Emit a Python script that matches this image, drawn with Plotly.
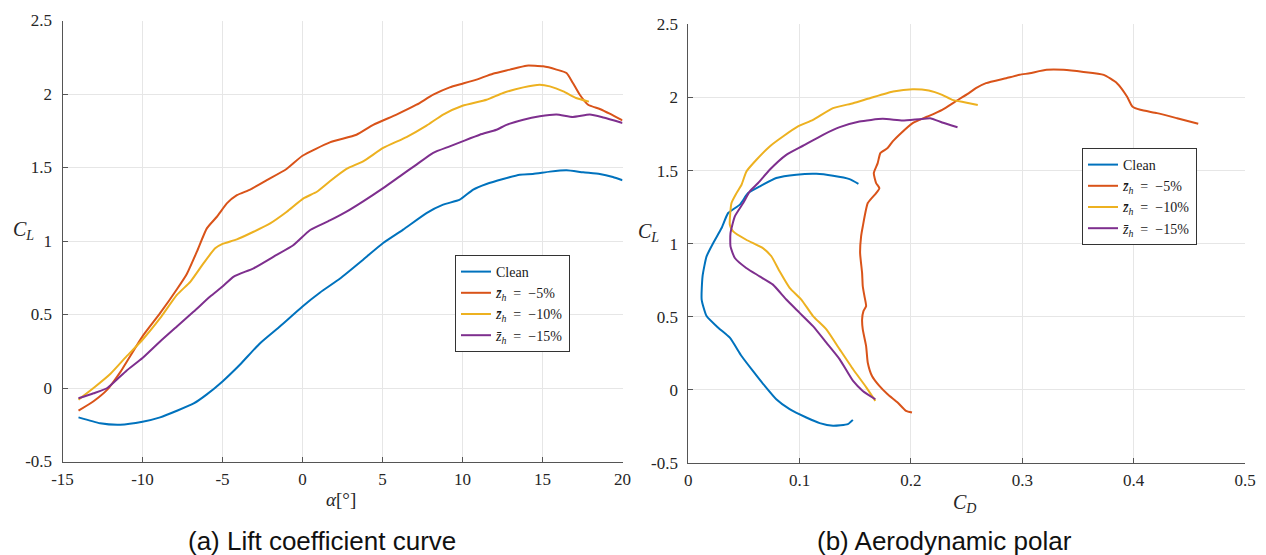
import plotly.graph_objects as go

# ---------------- data: (a) lift curve ----------------
alpha_clean = [-14.0, -12.65, -11.4, -10.0, -8.9, -7.85, -6.8, -6.0, -5.0, -3.9, -2.65, -1.4, 0.0,
               1.1, 2.35, 3.79, 5.04, 6.29, 7.75, 8.79, 9.83, 10.67, 11.5, 12.54, 13.58, 14.4,
               15.46, 16.5, 17.54, 18.58, 19.4, 20.0]
cl_clean = [-0.20, -0.24, -0.25, -0.23, -0.20, -0.155, -0.105, -0.045, 0.045, 0.16, 0.305, 0.42, 0.555,
            0.65, 0.745, 0.873, 0.986, 1.077, 1.19, 1.247, 1.281, 1.35, 1.388, 1.422, 1.451, 1.456,
            1.472, 1.481, 1.467, 1.456, 1.435, 1.413]

alpha_m5 = [-14.0, -13.06, -12.2, -11.4, -10.0, -8.9, -7.85, -7.23, -6.6, -5.98, -5.35, -4.73, -4.1,
            -3.27, -2.23, -1.0, 0.0, 1.71, 3.375, 4.42, 5.875, 7.125, 8.17, 9.2, 10.0, 10.875, 11.9,
            12.96, 14.0, 15.04, 15.875, 16.5, 16.9, 17.33, 17.85, 18.58, 19.2, 20.0]
cl_m5 = [-0.154, -0.09, -0.011, 0.106, 0.351, 0.509, 0.672, 0.776, 0.928, 1.086, 1.165, 1.256, 1.312,
         1.35, 1.414, 1.49, 1.58, 1.671, 1.723, 1.79, 1.86, 1.927, 1.995, 2.045, 2.07, 2.098, 2.138,
         2.166, 2.193, 2.188, 2.166, 2.143, 2.075, 1.995, 1.927, 1.898, 1.866, 1.82]

alpha_m10 = [-14.0, -13.06, -12.0, -11.0, -10.0, -8.9, -7.85, -7.0, -6.19, -5.46, -5.0, -4.1, -3.06,
             -2.02, -0.98, 0.06, 0.9, 1.71, 2.75, 3.79, 5.04, 6.5, 7.75, 8.79, 10.0, 11.5, 12.54,
             13.8, 14.83, 15.46, 16.3, 17.1, 17.9]
cl_m10 = [-0.079, 0.0, 0.097, 0.215, 0.328, 0.475, 0.633, 0.724, 0.848, 0.95, 0.98, 1.011, 1.063,
          1.12, 1.199, 1.29, 1.335, 1.406, 1.49, 1.542, 1.633, 1.707, 1.785, 1.86, 1.92, 1.961, 2.007,
          2.045, 2.063, 2.052, 2.018, 1.973, 1.948]

alpha_m15 = [-14.0, -13.06, -12.2, -11.0, -10.0, -8.9, -7.85, -6.8, -5.77, -5.0, -4.3, -3.06, -1.8,
             -0.56, 0.48, 1.71, 2.75, 3.79, 5.04, 6.08, 7.125, 8.17, 9.2, 10.0, 11.08, 12.125, 12.75,
             13.8, 14.83, 15.875, 16.9, 17.96, 18.8, 20.0]
cl_m15 = [-0.07, -0.036, 0.0, 0.118, 0.204, 0.317, 0.419, 0.52, 0.622, 0.69, 0.758, 0.814, 0.894,
          0.973, 1.075, 1.14, 1.2, 1.27, 1.36, 1.44, 1.52, 1.6, 1.644, 1.678, 1.723, 1.757, 1.79,
          1.825, 1.848, 1.86, 1.844, 1.86, 1.84, 1.803]

# ---------------- data: (b) polar ----------------
cd_clean_p = [0.1478, 0.1433, 0.130, 0.118, 0.106, 0.091, 0.079, 0.0687, 0.058, 0.0478, 0.0373, 0.0269,
              0.0164, 0.012, 0.0128, 0.0164, 0.0224, 0.0299, 0.0358, 0.0463, 0.0537, 0.0642, 0.079,
              0.097, 0.115, 0.130, 0.1448, 0.1528]
cl_clean_p = [-0.205, -0.234, -0.245, -0.227, -0.189, -0.132, -0.064, 0.027, 0.13, 0.232, 0.357, 0.425,
              0.505, 0.618, 0.777, 0.913, 1.005, 1.107, 1.21, 1.267, 1.346, 1.392, 1.449,
              1.472, 1.478, 1.465, 1.442, 1.41]

cd_m5_p = [0.2009, 0.1955, 0.188, 0.179, 0.1716, 0.165, 0.1612, 0.1597, 0.1567, 0.1561, 0.1573, 0.1597,
           0.1582, 0.1567, 0.1561, 0.1543, 0.1552, 0.1567, 0.1612, 0.1687, 0.1716, 0.1687, 0.1666,
           0.1701, 0.1725, 0.179, 0.1836, 0.191, 0.2015, 0.215, 0.228, 0.240, 0.252, 0.2583, 0.2674,
           0.2855, 0.2976, 0.3066, 0.3218, 0.3369, 0.355, 0.3731, 0.385, 0.394, 0.3988, 0.406, 0.421,
           0.439, 0.458]
cl_m5_p = [-0.155, -0.143, -0.086, -0.03, 0.027, 0.095, 0.186, 0.3, 0.414, 0.482, 0.539, 0.573,
           0.641, 0.709, 0.8, 0.936, 1.05, 1.118, 1.278, 1.346, 1.38, 1.415, 1.483,
           1.551, 1.62, 1.654, 1.7, 1.756, 1.825, 1.87, 1.916, 1.973, 2.03, 2.064, 2.098,
           2.132, 2.155, 2.166, 2.189, 2.189, 2.175, 2.155, 2.098, 2.007, 1.939, 1.916, 1.893,
           1.858, 1.82]

cd_m10_p = [0.168, 0.160, 0.148, 0.136, 0.124, 0.112, 0.1015, 0.091, 0.082, 0.0746, 0.067, 0.052,
            0.0403, 0.0373, 0.0388, 0.0433, 0.0478, 0.0522, 0.0612, 0.0731, 0.085, 0.0985, 0.112,
            0.130, 0.148, 0.163, 0.184, 0.2015, 0.216, 0.228, 0.237, 0.249, 0.260]
cl_m10_p = [-0.075, 0.016, 0.141, 0.277, 0.414, 0.505, 0.618, 0.698, 0.811, 0.914, 0.97, 1.027,
            1.084, 1.13, 1.278, 1.346, 1.403, 1.494, 1.574, 1.665, 1.733, 1.802, 1.847,
            1.927, 1.961, 1.995, 2.041, 2.057, 2.048, 2.018, 1.984, 1.966, 1.948]

cd_m15_p = [0.168, 0.1567, 0.148, 0.136, 0.124, 0.112, 0.100, 0.088, 0.076, 0.064, 0.052, 0.0418,
            0.0379, 0.0379, 0.0418, 0.0493, 0.0552, 0.0627, 0.0731, 0.088, 0.103, 0.121, 0.136,
            0.1537, 0.1746, 0.1925, 0.2075, 0.218, 0.228, 0.2418]
cl_m15_p = [-0.064, -0.007, 0.061, 0.209, 0.323, 0.436, 0.527, 0.618, 0.72, 0.777, 0.834, 0.902,
            0.982, 1.073, 1.187, 1.278, 1.358, 1.415, 1.506, 1.608, 1.67, 1.745, 1.797,
            1.836, 1.854, 1.843, 1.852, 1.857, 1.829, 1.797]

names = ["Clean",
         "<i>z\u0304</i><sub><i>h</i></sub>\u2002=\u2002\u22125%",
         "<i>z\u0304</i><sub><i>h</i></sub>\u2002=\u2002\u221210%",
         "<i>z\u0304</i><sub><i>h</i></sub>\u2002=\u2002\u221215%"]
colors = ["#0072BD", "#D95319", "#EDB120", "#7E2F8E"]

left_x_ticks = [-15, -10, -5, 0, 5, 10, 15, 20]
left_x_labels = ["-15", "-10", "-5", "0", "5", "10", "15", "20"]
y_ticks = [-0.5, 0, 0.5, 1, 1.5, 2, 2.5]
y_labels = ["-0.5", "0", "0.5", "1", "1.5", "2", "2.5"]
right_x_ticks = [0, 0.1, 0.2, 0.3, 0.4, 0.5]
right_x_labels = ["0", "0.1", "0.2", "0.3", "0.4", "0.5"]

# page body has an 8px margin: figure is placed at (8, 8) inside the 1266x555 window
OFF = 8
W, H = 1266 - OFF, 555 - OFF


def px(x):
    return (x - OFF) / W


def py(y):
    return 1 - (y - OFF) / H


SERIF = "Liberation Serif"
SANS = "Liberation Sans"

fig = go.Figure()
left_series = [(alpha_clean, cl_clean), (alpha_m5, cl_m5), (alpha_m10, cl_m10), (alpha_m15, cl_m15)]
right_series = [(cd_clean_p, cl_clean_p), (cd_m5_p, cl_m5_p), (cd_m10_p, cl_m10_p), (cd_m15_p, cl_m15_p)]
for (x, y), n, c in zip(left_series, names, colors):
    fig.add_trace(go.Scatter(x=x, y=y, mode="lines", name=n, line=dict(color=c, width=2, shape="spline", smoothing=0.5),
                             xaxis="x", yaxis="y", legend="legend"))
for (x, y), n, c in zip(right_series, names, colors):
    fig.add_trace(go.Scatter(x=x, y=y, mode="lines", name=n, line=dict(color=c, width=2, shape="spline", smoothing=0.5),
                             xaxis="x2", yaxis="y2", legend="legend2"))

axcol = "#555555"
gridcol = "#e6e6e6"
common = dict(showline=True, linecolor=axcol, linewidth=1, ticks="inside", ticklen=5, tickcolor=axcol,
              showgrid=True, gridcolor=gridcol, gridwidth=1, zeroline=False, automargin=False,
              tickfont=dict(family=SERIF, size=17, color="#262626"))

leg_common = dict(xanchor="left", yanchor="top", bgcolor="white",
                  bordercolor="#333333", borderwidth=1, font=dict(family=SERIF, size=14, color="#1a1a1a"),
                  tracegroupgap=0)

fig.update_layout(
    template="none",
    width=W, height=H, margin=dict(l=0, r=0, t=0, b=0, autoexpand=False),
    paper_bgcolor="white", plot_bgcolor="white",
    xaxis=dict(domain=[px(62.5), px(622.5)], range=[-15, 20], tickvals=left_x_ticks, ticktext=left_x_labels,
               anchor="y", ticklabelstandoff=2, **common),
    yaxis=dict(domain=[py(461.5), py(20.5)], range=[-0.5, 2.5], tickvals=y_ticks, ticktext=y_labels,
               anchor="x", ticklabelstandoff=6, **common),
    xaxis2=dict(domain=[px(688.3), px(1245)], range=[0, 0.5], tickvals=right_x_ticks, ticktext=right_x_labels,
                anchor="y2", ticklabelstandoff=2, **common),
    yaxis2=dict(domain=[py(463), py(24.4)], range=[-0.5, 2.5], tickvals=y_ticks, ticktext=y_labels,
                anchor="x2", ticklabelstandoff=6, **common),
    legend=dict(x=px(455), y=py(255), **leg_common),
    legend2=dict(x=px(1082), y=py(148), **leg_common),
    showlegend=True,
)

ann = [
    dict(text="<i>C</i><sub><i>L</i></sub>", x=23, y=230, size=20, family=SERIF),
    dict(text="<i>\u03b1</i>[\u00b0]", x=341, y=499, size=19, family=SERIF),
    dict(text="<i>C</i><sub><i>L</i></sub>", x=648, y=233, size=20, family=SERIF),
    dict(text="<i>C</i><sub><i>D</i></sub>", x=964, y=503, size=20, family=SERIF),
    dict(text="(a) Lift coefficient curve", x=322, y=541, size=26, family=SANS),
    dict(text="(b) Aerodynamic polar", x=944, y=541, size=26, family=SANS),
]
for a in ann:
    fig.add_annotation(text=a["text"], x=px(a["x"]), y=py(a["y"]), xref="paper", yref="paper", showarrow=False,
                       xanchor="center", yanchor="middle",
                       font=dict(family=a["family"], size=a["size"], color="#262626" if a["family"] == SERIF else "#111111"))

fig.write_html("out.html")
